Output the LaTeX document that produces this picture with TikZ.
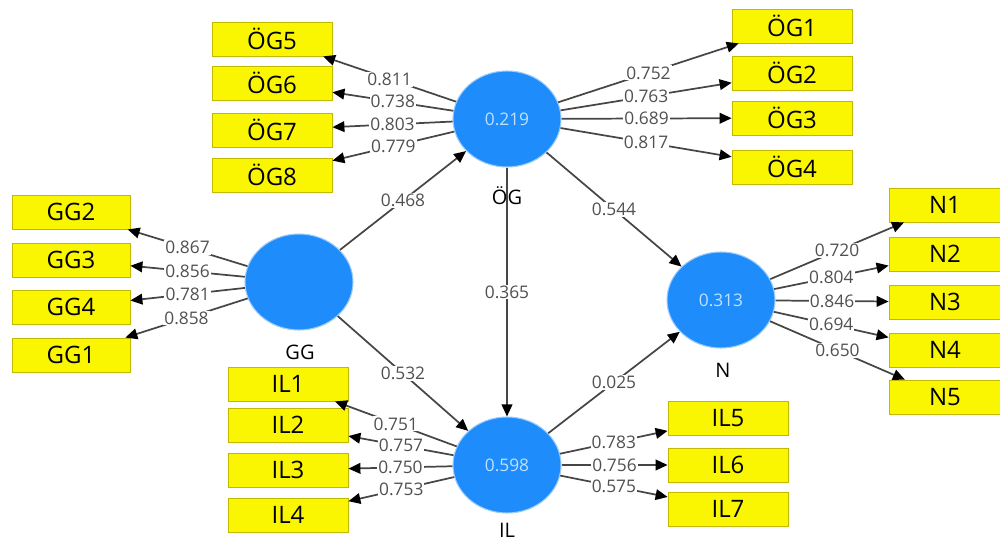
\documentclass[tikz,border=0pt]{standalone}
\usepackage{fontspec}
\setmainfont{Open Sans}
\usetikzlibrary{arrows.meta,shapes.geometric}
\definecolor{lvblue}{RGB}{30,140,250}
\definecolor{lvtext}{RGB}{190,225,255}
\definecolor{boxyellow}{RGB}{250,245,0}
\definecolor{boxedge}{RGB}{195,185,0}
\definecolor{linegray}{RGB}{70,70,70}
\definecolor{labgray}{RGB}{80,80,80}
\begin{document}
\begin{tikzpicture}[x=0.75pt,y=-0.75pt,
  latent/.style={ellipse,fill=lvblue,draw=lvblue!45,line width=0.8pt,inner sep=0pt,
    minimum width=81pt,minimum height=72pt,text=lvtext,font=\fontsize{13}{13}\selectfont},
  indic/.style={rectangle,fill=boxyellow,draw=boxedge,line width=0.6pt,inner sep=0pt,
    minimum width=90pt,minimum height=25.5pt,text=black,font=\fontsize{18}{18}\selectfont},
  lvname/.style={font=\fontsize{15}{15}\selectfont,text=black,inner sep=0pt},
  link/.style={draw=linegray,line width=1.3pt,-{Triangle[length=9pt,width=8pt,color=black]}},
  coef/.style={fill=white,inner sep=0.8pt,text=labgray,font=\fontsize{13}{13}\selectfont}
]
\useasboundingbox (0,0) rectangle (1000,542);

% latent variables
\node[latent] (og) at (507,119) {0.219};
\node[latent] (gg) at (299,282) {};
\node[latent] (n) at (721,300) {0.313};
\node[latent] (il) at (507,465) {0.598};

\node[lvname] (ogl) at (507,196) {ÖG};
\node[lvname] (ggl) at (300,352) {GG};
\node[lvname] (nl) at (723,370) {N};
\node[lvname] (ill) at (507,530) {IL};

% indicators ÖG
\node[indic] (og5) at (272,39) {ÖG5};
\node[indic] (og6) at (272,83) {ÖG6};
\node[indic] (og7) at (272,130) {ÖG7};
\node[indic] (og8) at (272,175) {ÖG8};
\node[indic] (og1) at (792,26) {ÖG1};
\node[indic] (og2) at (792,73) {ÖG2};
\node[indic] (og3) at (792,118) {ÖG3};
\node[indic] (og4) at (792,167) {ÖG4};
% GG
\node[indic,minimum width=88.5pt] (gg2) at (71,212) {GG2};
\node[indic,minimum width=88.5pt] (gg3) at (71,260) {GG3};
\node[indic,minimum width=88.5pt] (gg4) at (71,307) {GG4};
\node[indic,minimum width=88.5pt] (gg1) at (71,355) {GG1};
% N
\node[indic,minimum width=84pt] (n1) at (945,205) {N1};
\node[indic,minimum width=84pt] (n2) at (945,254) {N2};
\node[indic,minimum width=84pt] (n3) at (945,302) {N3};
\node[indic,minimum width=84pt] (n4) at (945,350) {N4};
\node[indic,minimum width=84pt] (n5) at (945,397) {N5};
% IL
\node[indic] (il1) at (288,384) {IL1};
\node[indic] (il2) at (288,425) {IL2};
\node[indic] (il3) at (288,470) {IL3};
\node[indic] (il4) at (288,515) {IL4};
\node[indic] (il5) at (728,418) {IL5};
\node[indic] (il6) at (728,465) {IL6};
\node[indic] (il7) at (728,509) {IL7};

% outer loadings
\draw[link] (og) -- node[coef] {0.811} (og5);
\draw[link] (og) -- node[coef] {0.738} (og6);
\draw[link] (og) -- node[coef] {0.803} (og7);
\draw[link] (og) -- node[coef] {0.779} (og8);
\draw[link] (og) -- node[coef] {0.752} (og1);
\draw[link] (og) -- node[coef] {0.763} (og2);
\draw[link] (og) -- node[coef] {0.689} (og3);
\draw[link] (og) -- node[coef] {0.817} (og4);

\draw[link] (gg) -- node[coef] {0.867} (gg2);
\draw[link] (gg) -- node[coef] {0.856} (gg3);
\draw[link] (gg) -- node[coef] {0.781} (gg4);
\draw[link] (gg) -- node[coef] {0.858} (gg1);

\draw[link] (n) -- node[coef] {0.720} (n1);
\draw[link] (n) -- node[coef] {0.804} (n2);
\draw[link] (n) -- node[coef] {0.846} (n3);
\draw[link] (n) -- node[coef] {0.694} (n4);
\draw[link] (n) -- node[coef] {0.650} (n5);

\draw[link] (il) -- node[coef] {0.751} (il1);
\draw[link] (il) -- node[coef] {0.757} (il2);
\draw[link] (il) -- node[coef] {0.750} (il3);
\draw[link] (il) -- node[coef] {0.753} (il4);
\draw[link] (il) -- node[coef] {0.783} (il5);
\draw[link] (il) -- node[coef] {0.756} (il6);
\draw[link] (il) -- node[coef] {0.575} (il7);

% structural paths
\draw[link] (gg) -- node[coef] {0.468} (og);
\draw[link] (gg) -- node[coef] {0.532} (il);
\draw[link] (og) -- node[coef] {0.365} (il);
\draw[link] (og) -- node[coef] {0.544} (n);
\draw[link] (il) -- node[coef] {0.025} (n);
\end{tikzpicture}
\end{document}
